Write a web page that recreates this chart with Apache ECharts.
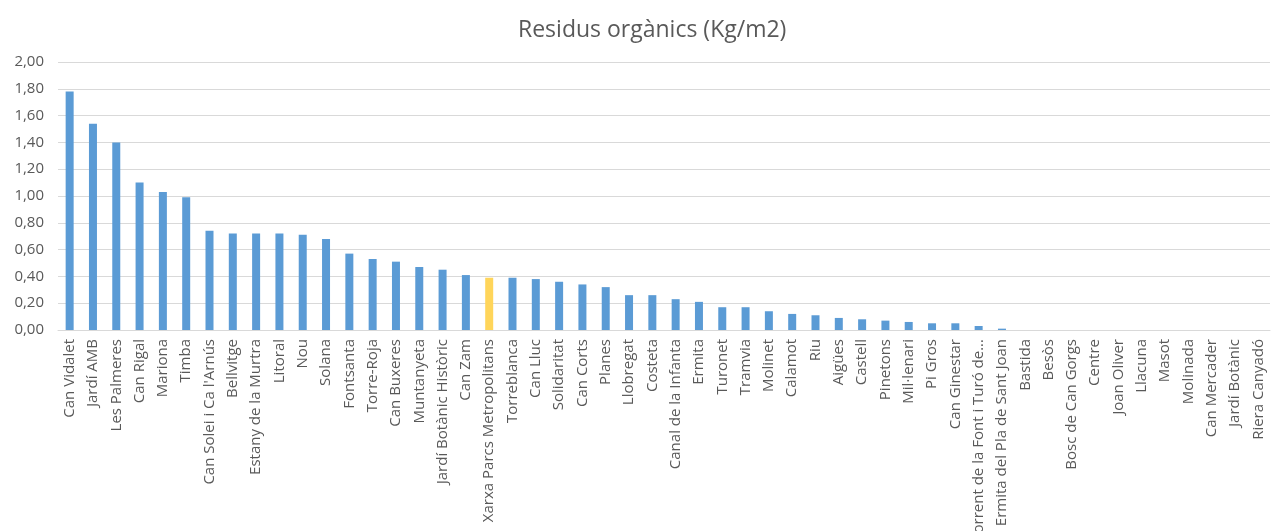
<!DOCTYPE html>
<html>
<head>
<meta charset="utf-8">
<script src="https://cdn.jsdelivr.net/npm/echarts@6/dist/echarts.min.js"></script>
<style>
html,body{margin:0;padding:0;background:#fff;}
#chart{width:1274px;height:531px;}
</style>
</head>
<body>
<div id="chart"></div>
<script>
const categories = ["Can Vidalet","Jardí AMB","Les Palmeres","Can Rigal","Mariona","Timba","Can Solei i Ca l'Arnús","Bellvitge","Estany de la Murtra","Litoral","Nou","Solana","Fontsanta","Torre-Roja","Can Buxeres","Muntanyeta","Jardí Botànic Històric","Can Zam","Xarxa Parcs Metropolitans","Torreblanca","Can Lluc","Solidaritat","Can Corts","Planes","Llobregat","Costeta","Canal de la Infanta","Ermita","Turonet","Tramvia","Molinet","Calamot","Riu","Aigües","Castell","Pinetons","Mil·lenari","Pi Gros","Can Ginestar","Torrent de la Font i Turó de...","Ermita del Pla de Sant Joan","Bastida","Besòs","Bosc de Can Gorgs","Centre","Joan Oliver","Llacuna","Masot","Molinada","Can Mercader","Jardí Botànic","Riera Canyadó"];
const values = [1.78,1.54,1.40,1.10,1.03,0.99,0.74,0.72,0.72,0.72,0.71,0.68,0.57,0.53,0.51,0.47,0.45,0.41,0.39,0.39,0.38,0.36,0.34,0.32,0.26,0.26,0.23,0.21,0.17,0.17,0.14,0.12,0.11,0.09,0.08,0.07,0.06,0.05,0.05,0.03,0.01,0,0,0,0,0,0,0,0,0,0,0];
const highlight = "Xarxa Parcs Metropolitans";
const yTicks = {min:0, max:2, interval:0.2};

const chart = echarts.init(document.getElementById('chart'));
chart.setOption({
  animation:false,
  backgroundColor:'#fff',
  title:{text:'Residus orgànics (Kg/m2)', left:513, top:14,
    textStyle:{fontFamily:'Open Sans', fontSize:23, fontWeight:'normal', color:'#595959'}},
  grid:{left:58, right:4, top:62, bottom:201, containLabel:false, outerBoundsMode:'none'},
  xAxis:{type:'category', data:categories,
    axisLine:{lineStyle:{color:'#d9d9d9'}},
    axisTick:{show:false},
    axisLabel:{interval:0, rotate:90, fontFamily:'Open Sans', fontSize:15, color:'#595959', margin:9}},
  yAxis:{type:'value', min:yTicks.min, max:yTicks.max, interval:yTicks.interval,
    axisLine:{show:false}, axisTick:{show:false},
    splitLine:{lineStyle:{color:'#d9d9d9'}},
    axisLabel:{fontFamily:'Open Sans', fontSize:15, color:'#595959', margin:14,
      formatter:v=>v.toFixed(2).replace('.',',')}},
  series:[{type:'bar', barWidth:8,
    data:values.map((v,i)=>({value:v, itemStyle:{color: categories[i]===highlight ? '#FFD55A' : '#5B9BD5'}}))}]
});
</script>
</body>
</html>
